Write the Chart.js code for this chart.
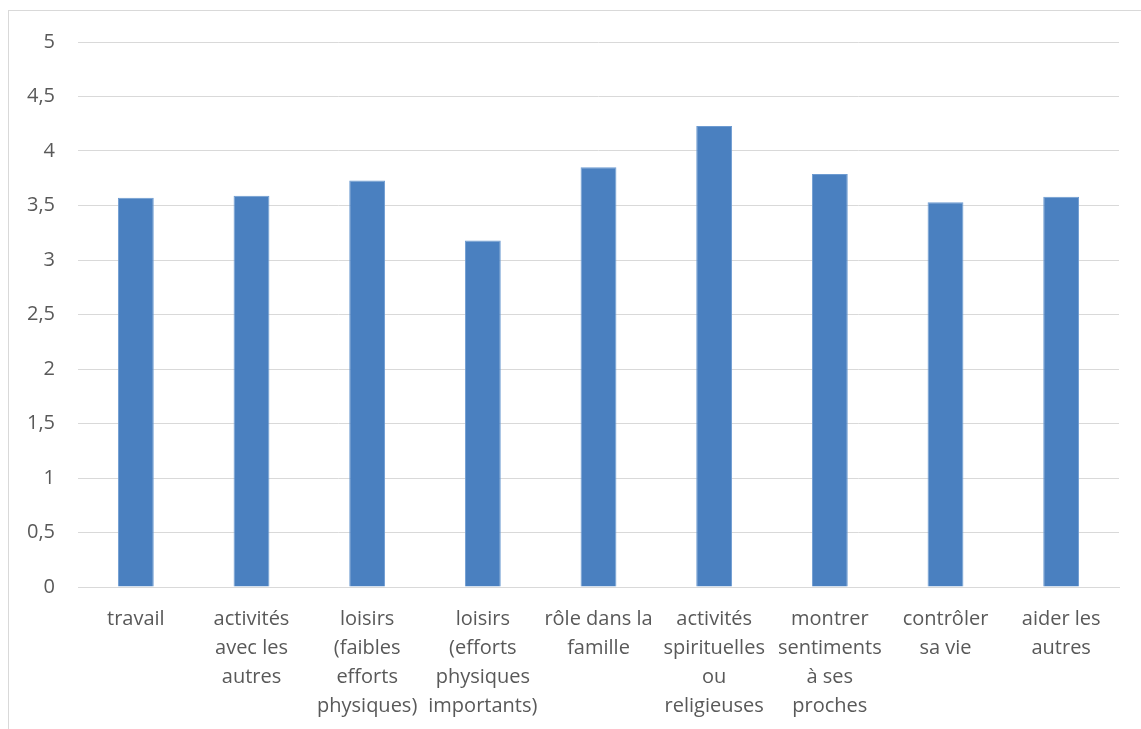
<!DOCTYPE html>
<html>
<head>
<meta charset="utf-8">
<script src="https://cdn.jsdelivr.net/npm/chart.js@4/dist/chart.umd.min.js"></script>
<style>
  html, body { margin: 0; padding: 0; background: #fff; overflow: hidden; }
  #frame { position: absolute; left: 8px; top: 10px; width: 1300px; height: 900px; border: 1px solid #d9d9d9; }
  #wrap { position: absolute; left: 0; top: 0; width: 1141px; height: 729px; }
</style>
</head>
<body>
<div id="frame"></div>
<div id="wrap"><canvas id="chart"></canvas></div>
<script>
const categories = [
  'travail',
  ['activités', 'avec les', 'autres'],
  ['loisirs', '(faibles', 'efforts', 'physiques)'],
  ['loisirs', '(efforts', 'physiques', 'importants)'],
  ['rôle dans la', 'famille'],
  ['activités', 'spirituelles', 'ou', 'religieuses'],
  ['montrer', 'sentiments', 'à ses', 'proches'],
  ['contrôler', 'sa vie'],
  ['aider les', 'autres']
];
const values = [3.57, 3.59, 3.73, 3.18, 3.85, 4.23, 3.79, 3.53, 3.58];
const yMin = 0, yMax = 5, yStep = 0.5;

(() => {
  const font = { family: "'Open Sans', sans-serif", size: 20 };
  new Chart(document.getElementById('chart'), {
    type: 'bar',
    data: {
      labels: categories,
      datasets: [{
        data: values,
        backgroundColor: '#4a80c0',
        borderColor: '#6d9bd1',
        borderWidth: 1,
        categoryPercentage: 1,
        barPercentage: 0.31
      }]
    },
    options: {
      responsive: true,
      maintainAspectRatio: false,
      animation: false,
      layout: { padding: { top: 42, right: 22, bottom: 0, left: 0 } },
      plugins: { legend: { display: false }, tooltip: { enabled: false } },
      scales: {
        x: {
          grid: { display: false, drawTicks: false },
          border: { color: '#d9d9d9', width: 1 },
          ticks: { color: '#595959', font: { ...font, lineHeight: 1.44 }, maxRotation: 0, autoSkip: false, padding: 18 },
          afterFit: (s) => { s.height = 142; }
        },
        y: {
          min: yMin, max: yMax,
          grid: { color: '#d9d9d9', drawTicks: false },
          border: { display: false },
          ticks: {
            stepSize: yStep, color: '#595959', font, padding: 23,
            callback: (v) => String(v).replace('.', ',')
          },
          afterFit: (s) => { s.width = 78; }
        }
      }
    }
  });
})();
</script>
</body>
</html>
